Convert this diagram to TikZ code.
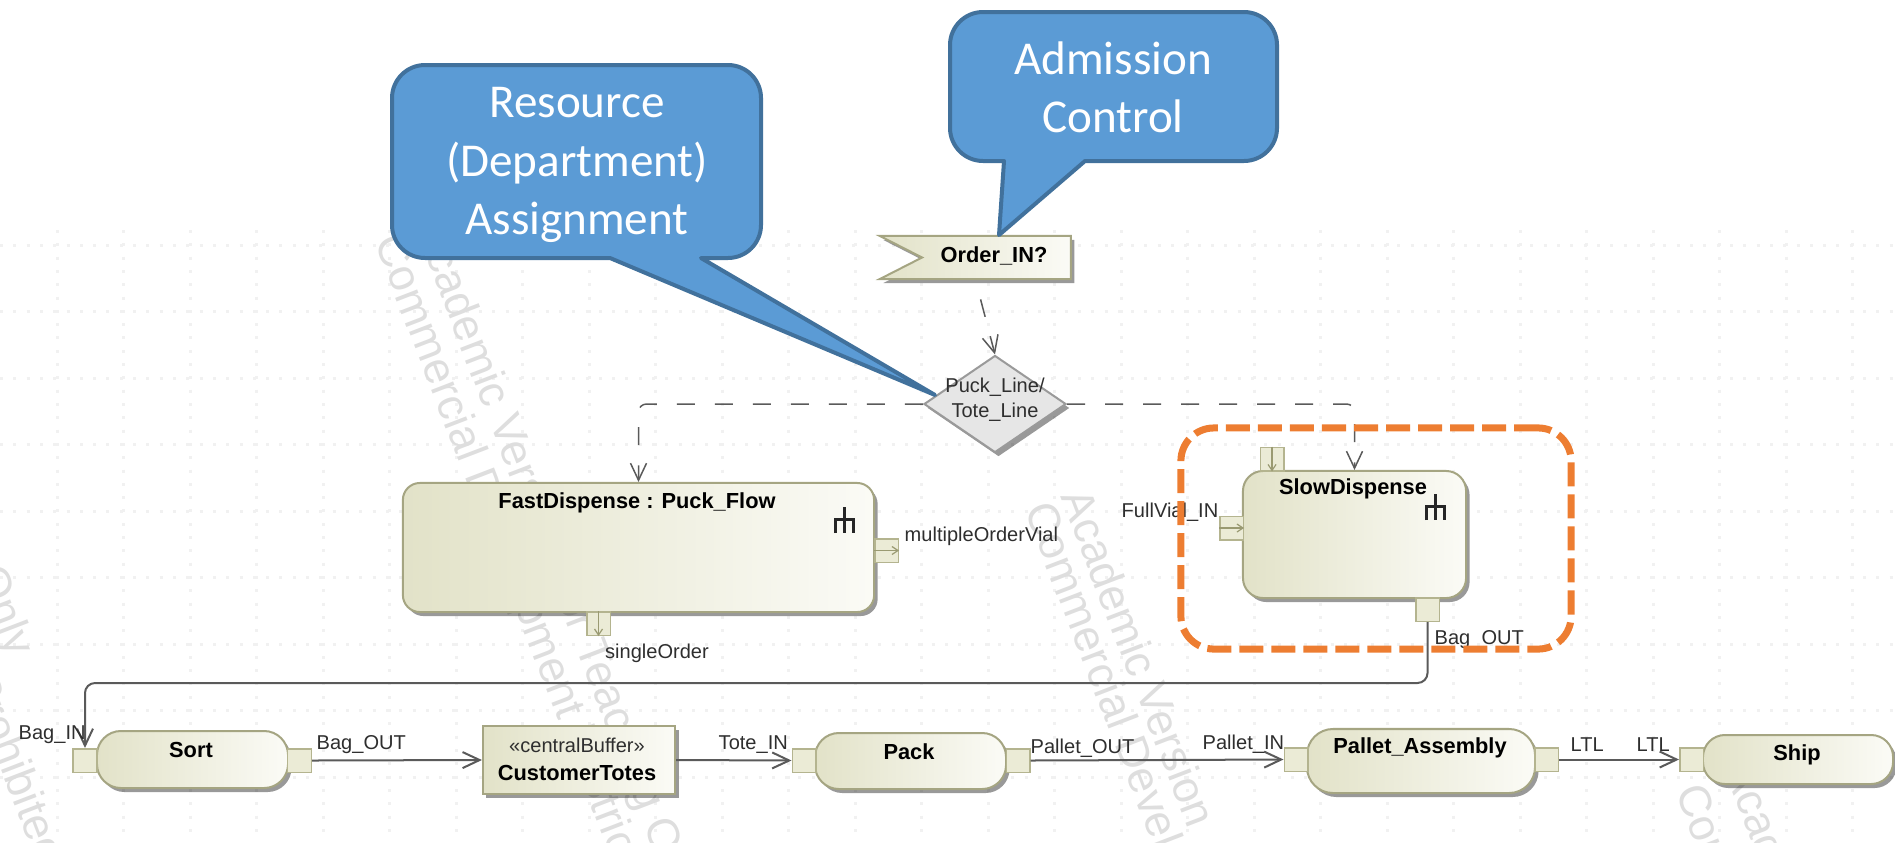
\documentclass[tikz,border=0pt]{standalone}
\usepackage{fontspec}
\setsansfont{Liberation Sans}
\newfontfamily\calloutfont{Carlito}
\usetikzlibrary{shapes.geometric, shapes.symbols, arrows.meta, shadows}

\tikzset{
	block/.style={draw=blockline, line width=0.02cm, left color=blockdark, right color=blocklight, inner sep=0pt,
		drop shadow={shadow xshift=0.035cm, shadow yshift=-0.04cm, fill=black, opacity=0.4}},
	portbox/.style={draw=portline, line width=0.015cm, fill=portfill, inner sep=0pt, minimum width=0.235cm, minimum height=0.235cm},
	blockname/.style={font=\sffamily\bfseries\fontsize{6.2}{7.5}\selectfont, text=black, inner sep=0pt, align=center},
	pinlabel/.style={font=\sffamily\fontsize{5.7}{7.2}\selectfont, text=textgrey, inner sep=0pt, align=center},
	flow/.style={draw=flowgrey, line width=0.02cm, -{Straight Barb[length=0.17cm, width=0.16cm]}},
	dashflow/.style={flow, line width=0.015cm, dash pattern=on 0.18cm off 0.2cm},
	portflow/.style={draw=portarrow, line width=0.012cm, -{Straight Barb[length=0.06cm, width=0.08cm]}},
	callout/.style={draw=calloutline, fill=calloutfill, line width=0.04cm, line join=round},
	callouttext/.style={font=\calloutfont\fontsize{13.4}{16.6}\selectfont, text=white, inner sep=0pt, align=center},
	gridline/.style={draw=gridgrey, line width=0.03cm, dash pattern=on 0.03cm off 0.103cm},
	watermark/.style={font=\sffamily\fontsize{12.7}{14}\selectfont, text=wmgrey, inner sep=0pt, rotate=-69, anchor=west},
	forkicon/.pic={
		\draw[line width=0.03cm, draw=black!85] (0,0) -- (0,26);
		\draw[line width=0.03cm, draw=black!85] (-9,26) -- (-9,12) -- (9,12) -- (9,26);
	}
}
\definecolor{blockline}{HTML}{A5A582}
\definecolor{blockdark}{HTML}{E2E2C8}
\definecolor{blocklight}{HTML}{FBFBF6}
\definecolor{portline}{HTML}{B4B48F}
\definecolor{portfill}{HTML}{EBEBD6}
\definecolor{portarrow}{HTML}{9A9A72}
\definecolor{textgrey}{HTML}{2E2E2E}
\definecolor{flowgrey}{HTML}{5A5A5A}
\definecolor{gateline}{HTML}{9A9A9A}
\definecolor{gatefill}{HTML}{E6E6E6}
\definecolor{calloutline}{HTML}{41719C}
\definecolor{calloutfill}{HTML}{5B9BD5}
\definecolor{gridgrey}{HTML}{F1F1F1}
\definecolor{wmgrey}{HTML}{DEDEDE}
\definecolor{focusorange}{HTML}{ED7D31}

\begin{document}
\begin{tikzpicture}[x=0.01cm, y=-0.01cm]
	\useasboundingbox (0,0) rectangle (1895,842);
	% background
	\foreach \r in {0,...,8}
		\draw[gridline] (0,{245+66.5*\r}) -- (1895,{245+66.5*\r});
	\foreach \c in {0,...,27}
		\draw[gridline] ({57+66.5*\c},230) -- ({57+66.5*\c},842);
	\begin{scope}
		\clip (0,0) rectangle (1895,842);
		\node[watermark] (markOnly) at (-14,568) {Only};
		\node[watermark] (markBan) at (-19,673) {Prohibited};
		\node[watermark] (markAcademicA) at (425,222) {Academic Version For Teaching Only};
		\node[watermark] (markCommercialA) at (385,237) {Commercial Development is Strictly Prohibited};
		\node[watermark] (markAcademicB) at (1075,490) {Academic Version};
		\node[watermark] (markCommercialB) at (1035,505) {Commercial Development};
		\node[watermark] (markAcademicC) at (1738,762) {Academic};
		\node[watermark] (markCommercialC) at (1690,785) {Commercial};
	\end{scope}

	% activity nodes
	\node[signal, signal from=west, signal to=nowhere, signal pointer angle=54, draw=blockline, line width=0.02cm,
		left color=blockdark, right color=blocklight, inner sep=0pt, minimum width=1.91cm, minimum height=0.43cm,
		drop shadow={shadow xshift=0.035cm, shadow yshift=-0.04cm, fill=black, opacity=0.4}] (order) at (996.5,257.5) {};
	\node[diamond, draw=gateline, line width=0.02cm, fill=gatefill, inner sep=0pt, minimum width=1.42cm, minimum height=0.97cm,
		drop shadow={shadow xshift=0.035cm, shadow yshift=-0.04cm, fill=black, opacity=0.4}] (gate) at (995,404) {};
	\node[block, rounded corners=0.17cm, minimum width=4.71cm, minimum height=1.29cm] (fast) at (638.5,547.5) {};
	\node[block, rounded corners=0.2cm, minimum width=2.23cm, minimum height=1.27cm] (slow) at (1354.5,534.5) {};
	\node[block, rounded corners=0.24cm, minimum width=1.91cm, minimum height=0.57cm] (sort) at (192.5,759.5) {};
	\node[block, minimum width=1.92cm, minimum height=0.68cm] (totes) at (579,760) {};
	\node[block, rounded corners=0.24cm, minimum width=1.91cm, minimum height=0.56cm] (pack) at (910.5,761) {};
	\node[block, rounded corners=0.26cm, minimum width=2.28cm, minimum height=0.64cm] (pallet) at (1421,761) {};
	\node[block, rounded corners=0.22cm, minimum width=1.9cm, minimum height=0.49cm] (ship) at (1798,759.5) {};

	% pins
	\node[portbox] (fastOut) at (886.5,550.5) {};
	\node[portbox] (fastSingle) at (598.5,623.5) {};
	\node[portbox] (slowTop) at (1272,459) {};
	\node[portbox] (slowIn) at (1231.5,528) {};
	\node[portbox] (slowOut) at (1427.5,609.5) {};
	\node[portbox] (sortIn) at (85,760.5) {};
	\node[portbox] (sortOut) at (299.5,760.5) {};
	\node[portbox] (packIn) at (804,760.5) {};
	\node[portbox] (packOut) at (1018,760.5) {};
	\node[portbox] (palletIn) at (1296,759.5) {};
	\node[portbox] (palletOut) at (1546.5,759.5) {};
	\node[portbox] (shipIn) at (1691.5,759.5) {};
	\draw[portflow] (fastOut.west) -- (fastOut.east);
	\draw[portflow] (fastSingle.north) -- (fastSingle.south);
	\draw[portflow] (slowTop.north) -- (slowTop.south);
	\draw[portflow] (slowIn.west) -- (slowIn.east);

	% connectors
	\coordinate (bagBend) at (800,683);
	\draw[dashflow, dash phase=0.18cm] ([xshift=-0.21cm]order.south) -- (gate.north);
	\draw[dashflow, rounded corners=0.08cm] (gate.west) -| (fast.north);
	\draw[dashflow, rounded corners=0.08cm] (gate.east) -| (slow.north);
	\draw[flow, rounded corners=0.1cm] (slowOut.south) |- (bagBend) -| (sortIn.north);
	\draw[flow] (sortOut.east) -- (totes.west);
	\draw[flow] (totes.east) -- (packIn.west);
	\draw[flow] (packOut.east) -- (palletIn.west);
	\draw[flow] (palletOut.east) -- (shipIn.west);

	% fork icons
	\pic at (844,507) {forkicon};
	\pic at (1435,494) {forkicon};

	% names
	\node[blockname] (orderName) at (994,256) {Order\_IN?};
	\node[pinlabel] (gateName) at (995,400) {Puck\_Line/\\Tote\_Line};
	\node[blockname] (fastName) at (637,503) {FastDispense : Puck\_Flow};
	\node[blockname] (slowName) at (1353,489) {SlowDispense};
	\node[blockname] (sortName) at (191,750) {Sort};
	\node[pinlabel] (bufferName) at (577,745) {«centralBuffer»};
	\node[blockname] (totesName) at (577,773) {CustomerTotes};
	\node[blockname] (packName) at (909,752) {Pack};
	\node[blockname] (palletName) at (1420,748) {Pallet\_Assembly};
	\node[blockname] (shipName) at (1797,755) {Ship};

	% pin labels
	\node[pinlabel, anchor=west] (fastOutName) at (904,536) {multipleOrderVial};
	\node[pinlabel, anchor=west] (singleName) at (604.5,653) {singleOrder};
	\node[pinlabel, anchor=west] (slowInName) at (1121,512) {FullVial\_IN};
	\node[pinlabel, anchor=west] (slowOutName) at (1434,640) {Bag\_OUT};
	\node[pinlabel, anchor=west] (sortInName) at (18,735) {Bag\_IN};
	\node[pinlabel, anchor=west] (sortOutName) at (316,745) {Bag\_OUT};
	\node[pinlabel, anchor=west] (packInName) at (718,745) {Tote\_IN};
	\node[pinlabel, anchor=west] (packOutName) at (1030,748) {Pallet\_OUT};
	\node[pinlabel, anchor=west] (palletInName) at (1202,744) {Pallet\_IN};
	\node[pinlabel, anchor=west] (palletOutName) at (1570,745) {LTL};
	\node[pinlabel, anchor=west] (shipInName) at (1636,745) {LTL};

	% callouts
	\draw[callout] (392,160) [rounded corners=0.33cm] -- (392,65) -- (761,65) -- (761,258) [sharp corners] -- (701,258) -- (935,395) -- (610,258) [rounded corners=0.33cm] -- (392,258) -- cycle;
	\node[callouttext] (resourceText) at (577,165) {Resource\\(Department)\\Assignment};
	\draw[callout] (950,80) [rounded corners=0.33cm] -- (950,12) -- (1277,12) -- (1277,161) [sharp corners] -- (1085,161) -- (999,235) -- (1004,161) [rounded corners=0.33cm] -- (950,161) -- cycle;
	\node[callouttext] (admissionText) at (1113,87) {Admission\\Control};

	% focus frame
	\node[draw=focusorange, line width=0.07cm, dash pattern=on 0.24cm off 0.08cm, rounded corners=0.33cm, inner sep=0pt,
		minimum width=3.9cm, minimum height=2.21cm] (focus) at (1376,538.5) {};
\end{tikzpicture}
\end{document}
